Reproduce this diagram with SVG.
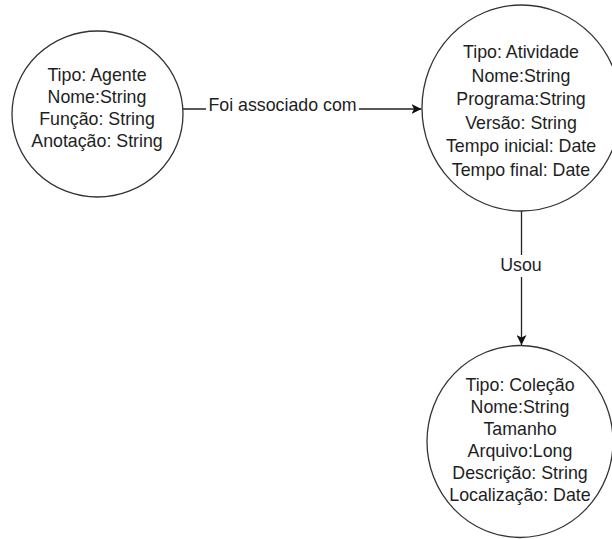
<svg xmlns="http://www.w3.org/2000/svg" width="612" height="539" viewBox="0 0 612 539">
  <defs>
    <marker id="arrow" viewBox="0 0 10 10" refX="10" refY="5" markerWidth="10" markerHeight="10" markerUnits="userSpaceOnUse" orient="auto">
      <path d="M0,0 L10,5 L0,10 L2.5,5 Z" fill="#111"/>
    </marker>
  </defs>
  <style>
    .node { fill: #ffffff; stroke: #333333; stroke-width: 1.3; }
    .edge { fill: none; stroke: #222222; stroke-width: 1.3; }
    .label { font-family: "Liberation Sans", Arial, sans-serif; font-size: 17.8px; fill: #1e1e1e; text-anchor: middle; }
    .edge-bg { fill: #ffffff; }
  </style>
  <rect width="612" height="539" fill="#ffffff"/>

  <g id="connectors">
    <!-- Agente -> Atividade -->
    <path class="edge" d="M183,109 H421.5" marker-end="url(#arrow)"/>
    <rect class="edge-bg" x="206" y="95" width="153" height="22"/>
    <text class="label" x="282.5" y="111">Foi associado com</text>
    <!-- Atividade -> Coleção -->
    <path class="edge" d="M521.5,211 V345" marker-end="url(#arrow)"/>
    <rect class="edge-bg" x="498" y="255" width="46" height="22"/>
    <text class="label" x="521" y="271">Usou</text>
  </g>

  <g id="agente">
    <ellipse class="node" cx="97.5" cy="114" rx="85.5" ry="83"/>
    <text class="label" x="97" y="81">Tipo: Agente</text>
    <text class="label" x="97" y="103">Nome:String</text>
    <text class="label" x="97" y="125">Função: String</text>
    <text class="label" x="97" y="147">Anotação: String</text>
  </g>

  <g id="atividade">
    <ellipse class="node" cx="521.5" cy="108" rx="99.5" ry="103"/>
    <text class="label" x="521" y="58">Tipo: Atividade</text>
    <text class="label" x="521" y="81.5">Nome:String</text>
    <text class="label" x="521" y="105">Programa:String</text>
    <text class="label" x="521" y="128.5">Versão: String</text>
    <text class="label" x="521" y="152">Tempo inicial: Date</text>
    <text class="label" x="521" y="175.5">Tempo final: Date</text>
  </g>

  <g id="colecao">
    <ellipse class="node" cx="520" cy="441.5" rx="93" ry="96"/>
    <text class="label" x="520" y="391">Tipo: Coleção</text>
    <text class="label" x="520" y="413">Nome:String</text>
    <text class="label" x="520" y="435">Tamanho</text>
    <text class="label" x="520" y="457">Arquivo:Long</text>
    <text class="label" x="520" y="479">Descrição: String</text>
    <text class="label" x="520" y="501">Localização: Date</text>
  </g>
</svg>
